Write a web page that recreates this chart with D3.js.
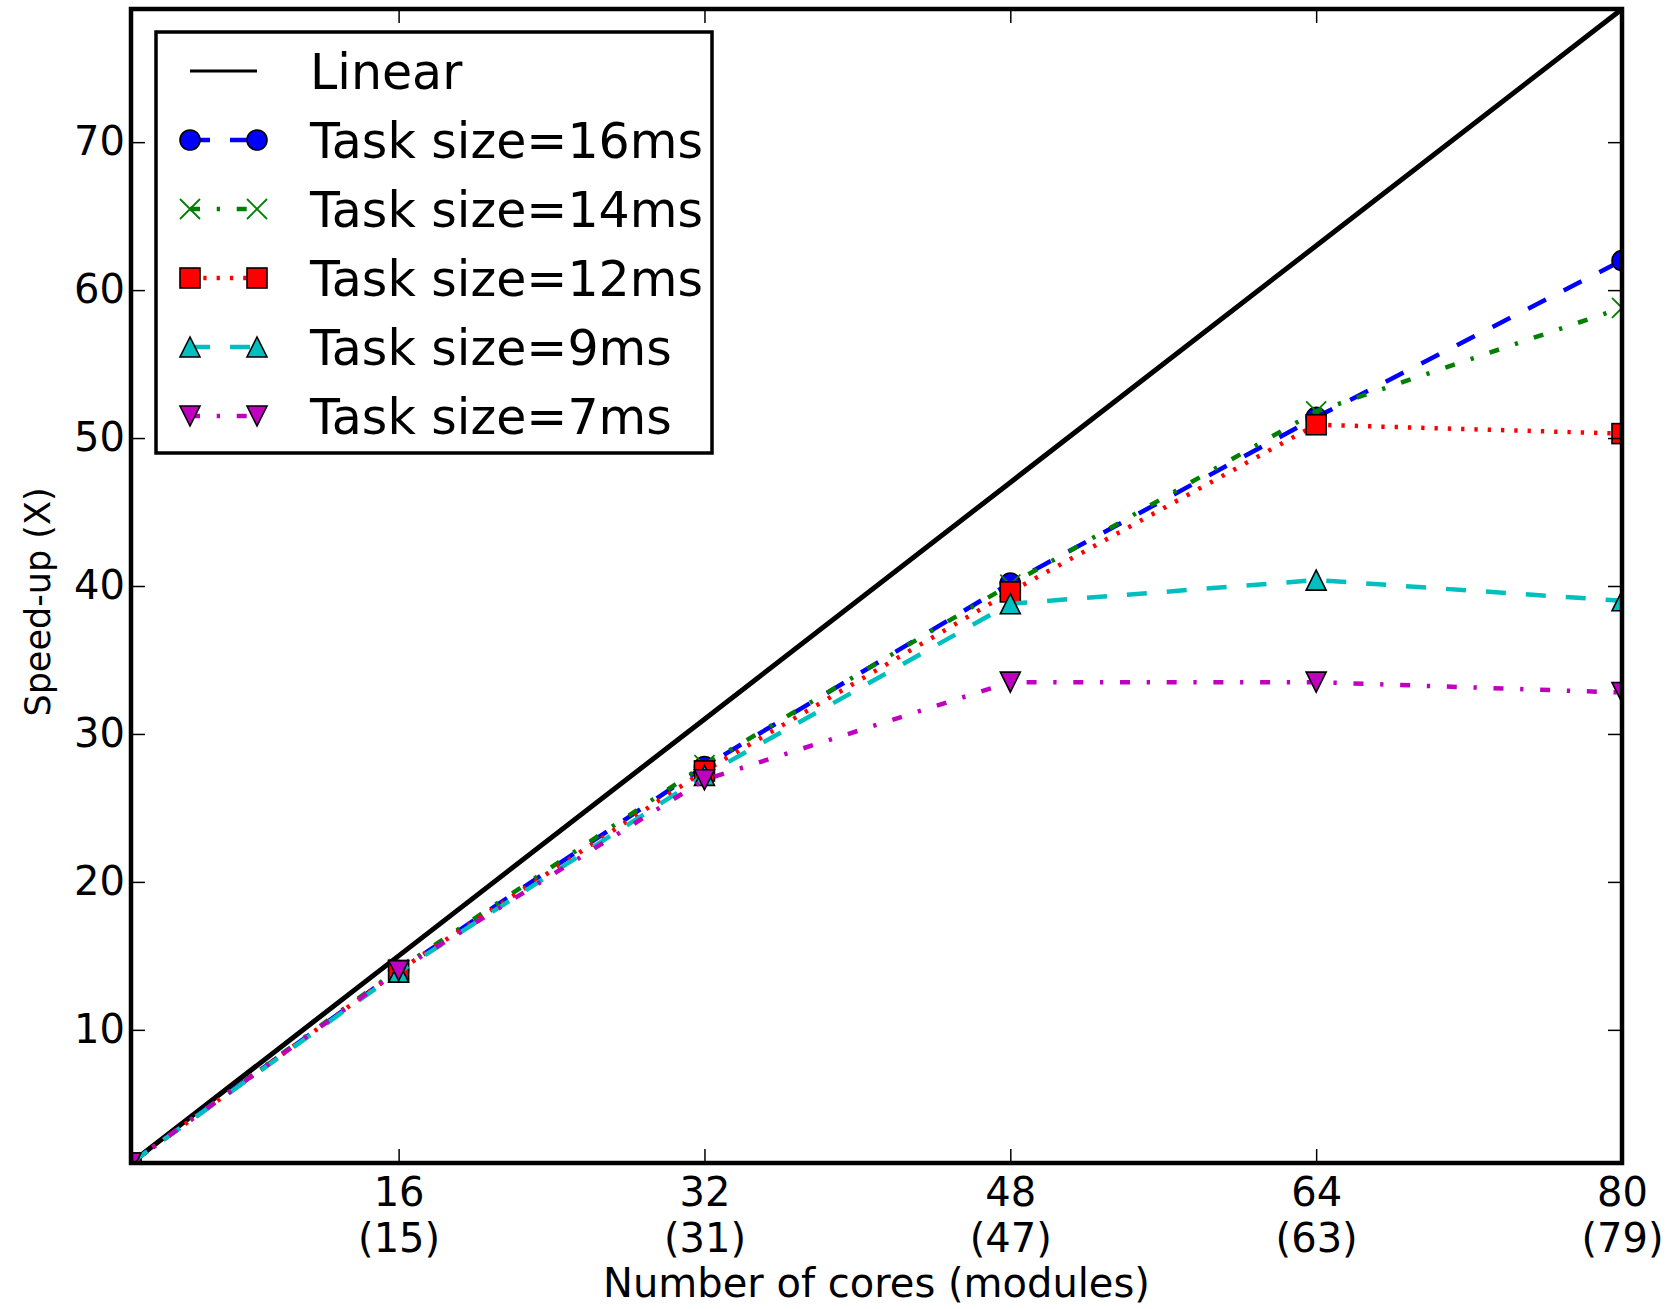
<!DOCTYPE html>
<html>
<head>
<meta charset="utf-8">
<script src="https://cdn.jsdelivr.net/npm/d3@7"></script>
<style>
  body { margin: 0; background: #fff; }
  svg text { font-family: "DejaVu Sans", sans-serif; fill: #000; }
</style>
</head>
<body>
<div class="drawing"></div>
<script>
// Data
var cores = [2, 16, 32, 48, 64, 80];
var linear = [1, 15, 31, 47, 63, 79];
var task16 = [1, 14.0, 27.8, 40.2, 51.4, 62.0];
var task14 = [1, 14.1, 27.9, 40.1, 51.8, 58.8];
var task12 = [1, 14.0, 27.5, 39.6, 50.9, 50.3];
var task9  = [1, 13.9, 27.2, 38.8, 40.4, 39.0];
var task7  = [1, 14.0, 26.9, 33.5, 33.5, 32.8];

var xTicks = [16, 32, 48, 64, 80];
var xTickModules = ["(15)", "(31)", "(47)", "(63)", "(79)"];
var yTicks = [10, 20, 30, 40, 50, 60, 70];

var labels = ["Linear", "Task size=16ms", "Task size=14ms", "Task size=12ms", "Task size=9ms", "Task size=7ms"];

var series = [
    {name: labels[0], values: linear, color: "#000000", dash: null, marker: null, lw: 5},
    {name: labels[1], values: task16, color: "#0000ff", dash: "20,20", marker: "circle", lw: 4.5},
    {name: labels[2], values: task14, color: "#008000", dash: "10,16.7,3.3,16.7", marker: "x", lw: 4.5},
    {name: labels[3], values: task12, color: "#ff0000", dash: "3.3,10", marker: "square", lw: 4.5},
    {name: labels[4], values: task9, color: "#00bfbf", dash: "20,20", marker: "up", lw: 4.5},
    {name: labels[5], values: task7, color: "#bf00bf", dash: "10,16.7,3.3,16.7", marker: "down", lw: 4.5}
];

var width = 1673, height = 1309;
var pLeft = 131, pRight = 1622, pTop = 9, pBottom = 1163;

var svg = d3.select(".drawing").append("svg")
    .attr("width", width)
    .attr("height", height);

var x = d3.scaleLinear().domain([2, 80]).range([pLeft, pRight]);
var y = d3.scaleLinear().domain([1, 79]).range([pBottom, pTop]);

svg.append("defs").append("clipPath")
    .attr("id", "plot-clip")
  .append("rect")
    .attr("x", pLeft).attr("y", pTop)
    .attr("width", pRight - pLeft).attr("height", pBottom - pTop);

// Markers
function drawMarker(g, type, color, cx, cy) {
    var s = 10;
    if (type == "circle") {
	g.append("circle").attr("cx", cx).attr("cy", cy).attr("r", s)
	    .attr("fill", color).attr("stroke", "#000").attr("stroke-width", 1.6);
    } else if (type == "square") {
	g.append("rect").attr("x", cx - s).attr("y", cy - s)
	    .attr("width", 2*s).attr("height", 2*s)
	    .attr("fill", color).attr("stroke", "#000").attr("stroke-width", 1.6);
    } else if (type == "up") {
	g.append("path")
	    .attr("d", "M" + cx + "," + (cy - s) + "L" + (cx - s) + "," + (cy + s) + "L" + (cx + s) + "," + (cy + s) + "Z")
	    .attr("fill", color).attr("stroke", "#000").attr("stroke-width", 1.6);
    } else if (type == "down") {
	g.append("path")
	    .attr("d", "M" + cx + "," + (cy + s) + "L" + (cx - s) + "," + (cy - s) + "L" + (cx + s) + "," + (cy - s) + "Z")
	    .attr("fill", color).attr("stroke", "#000").attr("stroke-width", 1.6);
    } else if (type == "x") {
	g.append("path")
	    .attr("d", "M" + (cx - s) + "," + (cy - s) + "L" + (cx + s) + "," + (cy + s) +
		  "M" + (cx - s) + "," + (cy + s) + "L" + (cx + s) + "," + (cy - s))
	    .attr("fill", "none").attr("stroke", color).attr("stroke-width", 1.8);
    }
}

// Draw series
var plot = svg.append("g").attr("clip-path", "url(#plot-clip)");
var line = d3.line()
    .x(function(d, i) { return x(cores[i]); })
    .y(function(d) { return y(d); });

series.forEach(function(s) {
    plot.append("path")
	.attr("d", line(s.values))
	.attr("fill", "none")
	.attr("stroke", s.color)
	.attr("stroke-width", s.lw)
	.attr("stroke-dasharray", s.dash);
    if (s.marker) {
	s.values.forEach(function(v, i) {
	    drawMarker(plot, s.marker, s.color, x(cores[i]), y(v));
	});
    }
});

// Axes with inward ticks, mirrored on top and right
var tickLen = 14;
var xAxis = svg.append("g")
    .attr("transform", "translate(0," + pBottom + ")")
    .call(d3.axisBottom(x).tickValues(xTicks).tickSizeInner(-tickLen).tickSizeOuter(0).tickPadding(15));
xAxis.selectAll("text")
    .attr("font-size", 40)
    .each(function(d, i) {
	d3.select(this).append("tspan")
	    .attr("x", 0).attr("dy", "1.15em")
	    .text(xTickModules[i]);
    });

var yAxis = svg.append("g")
    .attr("transform", "translate(" + pLeft + ",0)")
    .call(d3.axisLeft(y).tickValues(yTicks).tickSizeInner(-tickLen).tickSizeOuter(0).tickPadding(6));
yAxis.selectAll("text").attr("font-size", 40);

svg.append("g")
    .attr("transform", "translate(0," + pTop + ")")
    .call(d3.axisTop(x).tickValues(xTicks).tickSizeInner(-tickLen).tickSizeOuter(0).tickFormat(""));
svg.append("g")
    .attr("transform", "translate(" + pRight + ",0)")
    .call(d3.axisRight(y).tickValues(yTicks).tickSizeInner(-tickLen).tickSizeOuter(0).tickFormat(""));

svg.selectAll(".domain").remove();
svg.selectAll(".tick line").attr("stroke", "#000").attr("stroke-width", 1.5);

// Frame
svg.append("rect")
    .attr("x", pLeft).attr("y", pTop)
    .attr("width", pRight - pLeft).attr("height", pBottom - pTop)
    .attr("fill", "none").attr("stroke", "#000").attr("stroke-width", 4.5);

// Axis labels
svg.append("text")
    .attr("x", (pLeft + pRight) / 2).attr("y", 1297)
    .attr("text-anchor", "middle")
    .attr("font-size", 40)
    .text("Number of cores (modules)");

svg.append("text")
    .attr("transform", "translate(50," + 602 + ") rotate(-90)")
    .attr("text-anchor", "middle")
    .attr("font-size", 35)
    .text("Speed-up (X)");

// Legend
var legend = svg.append("g");
legend.append("rect")
    .attr("x", 156).attr("y", 32)
    .attr("width", 556).attr("height", 421)
    .attr("fill", "#fff").attr("stroke", "#000").attr("stroke-width", 3.5);

series.forEach(function(s, i) {
    var ly = 71 + i * 69;
    legend.append("line")
	.attr("x1", 190).attr("x2", 257)
	.attr("y1", ly).attr("y2", ly)
	.attr("stroke", s.color)
	.attr("stroke-width", s.marker ? s.lw : 3)
	.attr("stroke-dasharray", s.dash);
    if (s.marker) {
	drawMarker(legend, s.marker, s.color, 190, ly);
	drawMarker(legend, s.marker, s.color, 257, ly);
    }
    legend.append("text")
	.attr("x", 310).attr("y", ly + 18)
	.attr("font-size", 49)
	.text(s.name);
});
</script>
</body>
</html>
